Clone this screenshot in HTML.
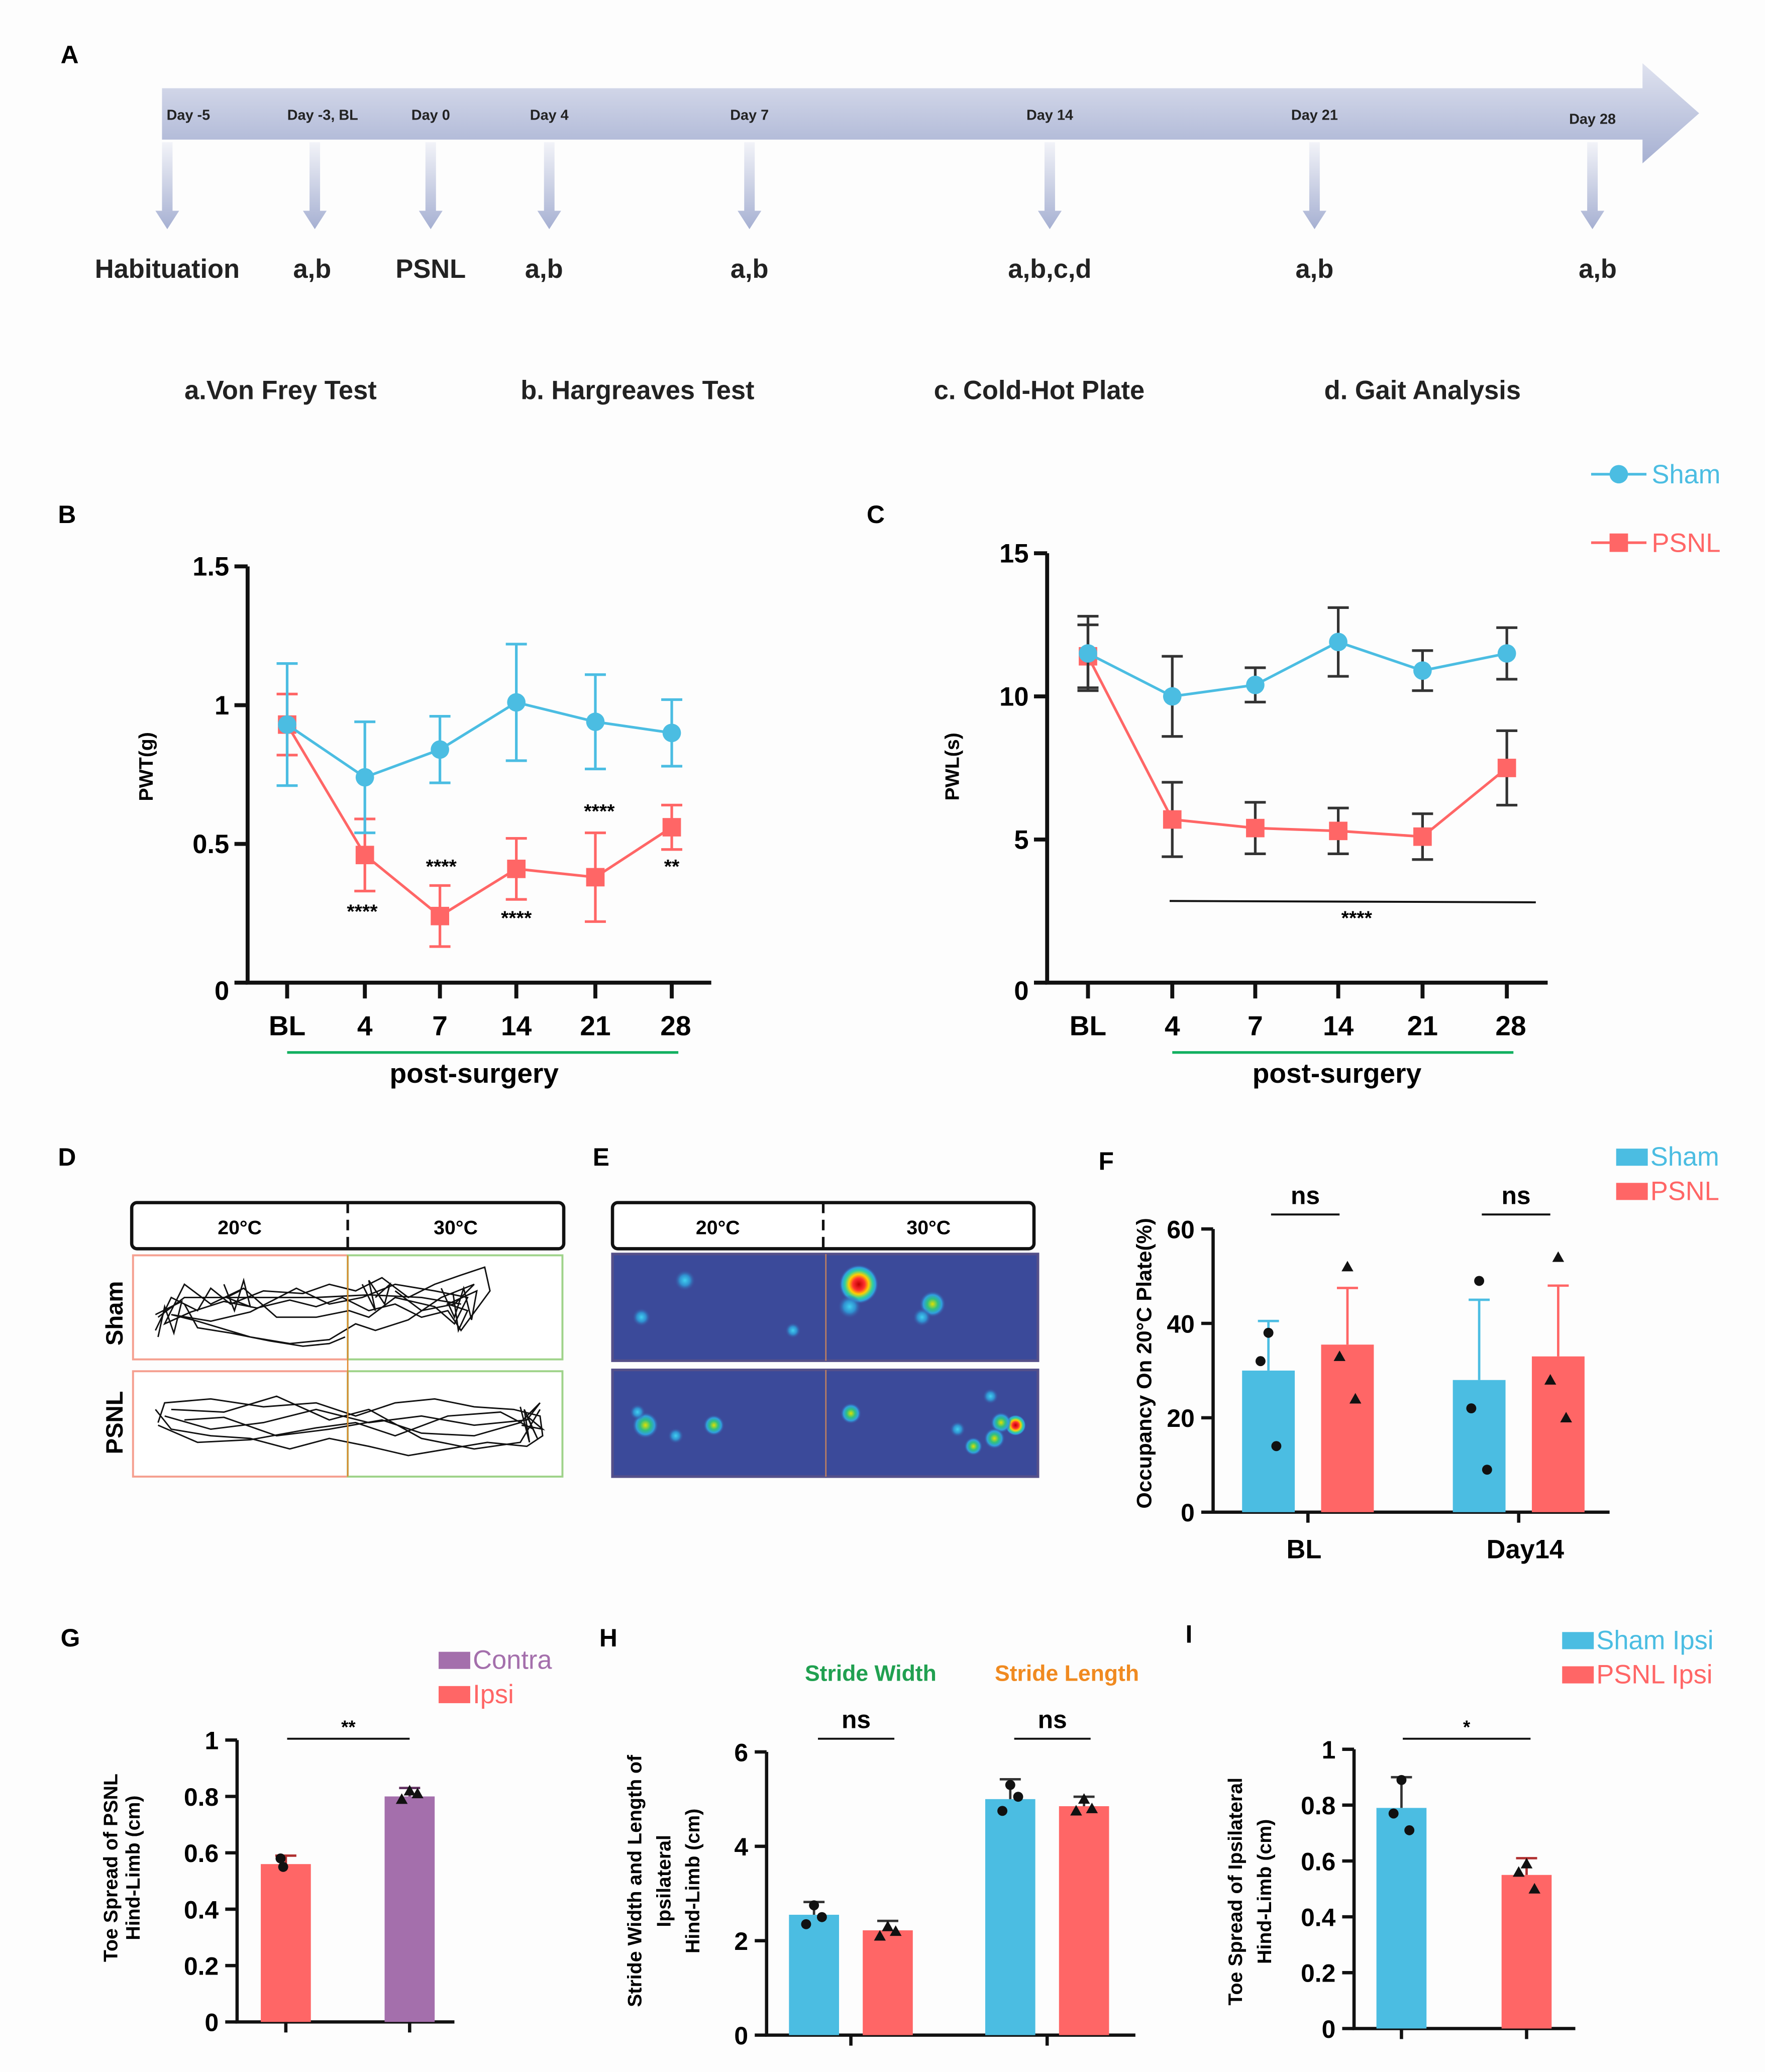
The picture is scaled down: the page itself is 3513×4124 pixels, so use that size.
<!DOCTYPE html>
<html><head><meta charset="utf-8"><style>
html,body{margin:0;padding:0;background:#fdfdfd}
svg{display:block}
text{font-family:"Liberation Sans",sans-serif}
</style></head><body>
<svg id="fig" width="3513" height="4124" viewBox="0 0 1340 1573" preserveAspectRatio="none" xmlns="http://www.w3.org/2000/svg">
<defs>
<linearGradient id="tl" x1="0" y1="0" x2="0" y2="1"><stop offset="0" stop-color="#dfe2ef"/><stop offset="1" stop-color="#a6b0d2"/></linearGradient>
<linearGradient id="dn" x1="0" y1="0" x2="0" y2="1"><stop offset="0" stop-color="#f2f3f8"/><stop offset="1" stop-color="#a6b0d2"/></linearGradient>
<radialGradient id="hot"><stop offset="0" stop-color="#c00000"/><stop offset="0.3" stop-color="#ff3030"/><stop offset="0.5" stop-color="#ffd000"/><stop offset="0.7" stop-color="#30d0a0"/><stop offset="0.85" stop-color="#30a0e0"/><stop offset="1" stop-color="#3b4a9a" stop-opacity="0"/></radialGradient>
<radialGradient id="warm"><stop offset="0" stop-color="#e0e000"/><stop offset="0.4" stop-color="#30c080"/><stop offset="0.7" stop-color="#30a0e0"/><stop offset="1" stop-color="#3b4a9a" stop-opacity="0"/></radialGradient>
<radialGradient id="cool"><stop offset="0" stop-color="#40d0f0"/><stop offset="0.5" stop-color="#3090d0"/><stop offset="1" stop-color="#3b4a9a" stop-opacity="0"/></radialGradient>
</defs>
<rect x="0" y="0" width="1340" height="1573" fill="#fdfdfd"/>
<g id="A" font-weight="bold">
<text x="46" y="48" font-size="19">A</text>
<path d="M123 67 H1247 V48 L1290 86 L1247 124 V106 H123 Z" fill="url(#tl)"/>
</g>
<g id="B"></g>
<g id="C"></g>
<g id="DE"></g>
<g id="F"></g>
<g id="G"></g>
<g id="H"></g>
<g id="I"></g>
</svg>
<script>
// ---------- data ----------
const timelineDays = ["Day -5","Day -3, BL","Day 0","Day 4","Day 7","Day 14","Day 21","Day 28"];
const timelineTasks = ["Habituation","a,b","PSNL","a,b","a,b","a,b,c,d","a,b","a,b"];
const lineCategories = ["BL","4","7","14","21","28"];
const pwtSham = [0.93,0.74,0.84,1.01,0.94,0.90];
const pwtShamErr = [0.22,0.20,0.12,0.21,0.17,0.12];
const pwtPsnl = [0.93,0.46,0.24,0.41,0.38,0.56];
const pwtPsnlErr = [0.11,0.13,0.11,0.11,0.16,0.08];
const pwtTicks = [0,0.5,1,1.5];
const pwtTickLabels = ["0","0.5","1","1.5"];
const pwlSham = [11.5,10.0,10.4,11.9,10.9,11.5];
const pwlShamErr = [1.3,1.4,0.6,1.2,0.7,0.9];
const pwlPsnl = [11.4,5.7,5.4,5.3,5.1,7.5];
const pwlPsnlErr = [1.1,1.3,0.9,0.8,0.8,1.3];
const pwlTicks = [0,5,10,15];
const occCategories = ["BL","Day14"];
const occSham = [30,28];
const occShamErr = [10.5,17];
const occPsnl = [35.5,33];
const occPsnlErr = [12,15];
const occShamPts = [[38,32,14],[49,22,9]];
const occPsnlPts = [[52,33,24],[54,28,20]];
const toeGroups = ["Ipsi","Contra"];
const toeVals = [0.56,0.80];
const toeErr = [0.03,0.03];
const toePts = [[0.58,0.55],[0.82,0.79,0.81]];
const strideCats = ["Stride Width","Stride Length"];
const strideSham = [2.55,5.0];
const strideShamErr = [0.27,0.42];
const stridePsnl = [2.22,4.85];
const stridePsnlErr = [0.2,0.2];
const strideShamPts = [[2.75,2.35,2.5],[5.3,4.75,5.05]];
const stridePsnlPts = [[2.3,2.1,2.2],[5.0,4.75,4.8]];
const ipsiGroups = ["Sham Ipsi","PSNL Ipsi"];
const ipsiVals = [0.79,0.55];
const ipsiErr = [0.11,0.06];
const ipsiPts = [[0.89,0.77,0.71],[0.59,0.56,0.50]];

const BLUE="#4bbde2", RED="#ff6666", PURPLE="#a46fac", INK="#111";
const NS="http://www.w3.org/2000/svg";
function mk(parent,tag,attrs,txt){const e=document.createElementNS(NS,tag);for(const k in attrs)e.setAttribute(k,attrs[k]);if(txt!==undefined)e.textContent=txt;parent.appendChild(e);return e;}

// ---------- A ----------
const A=document.getElementById('A');
const tlX=[143,245,327,417,569,797,998,1209];
timelineDays.forEach((d,i)=>{
  const x=tlX[i];
  let t=mk(A,'text',{x:x,y:i==7?94:91,'font-size':11,'text-anchor':'middle',fill:'#222'},d);
  
  
  const ax = i==0?127:x-(i==1?6:0);
  let a=mk(A,'path',{d:`M${ax-4} 108 H${ax+4} V160 H${ax+9} L${ax} 174 L${ax-9} 160 H${ax-4} Z`,fill:'url(#dn)'});
  
  
  let tt=mk(A,'text',{x:i==0?127:(i==1?237:(i==5?797:x+(i==7?4:(i==3?-4:0)))),y:211,'font-size':20,'text-anchor':'middle',fill:'#222'},timelineTasks[i]);
  
  
});
[["a.Von Frey Test",213],["b. Hargreaves Test",484],["c. Cold-Hot Plate",789],["d. Gait Analysis",1080]].forEach(p=>{
  let t=mk(A,'text',{x:p[1],y:303,'font-size':20,'text-anchor':'middle',fill:'#222'},p[0]);
  
  
});

// ---------- line charts ----------
function lineChart(g,o){
  const y=v=>o.y0-(v-0)*(o.y0-o.yTop)/o.yMax;
  const x=i=>o.xs[i];
  let l=mk(g,'text',{x:o.lx,y:o.ly,'font-size':19,'font-weight':'bold'},o.label);
  
  
  let ax=mk(g,'path',{d:`M${o.ax} ${o.yTop} V${o.y0} H${o.axEnd}`,stroke:INK,'stroke-width':3,fill:'none'});
  
  
  o.ticks.forEach((t,i)=>{
    let tk=mk(g,'line',{x1:o.ax-10,x2:o.ax,y1:y(t),y2:y(t),stroke:INK,'stroke-width':3});
    
    
    let tl=mk(g,'text',{x:o.ax-14,y:y(t)+(i==0?13:7),'font-size':20,'font-weight':'bold','text-anchor':'end'},o.tickLabels[i]);
    
    
  });
  lineCategories.forEach((c,i)=>{
    let tk=mk(g,'line',{x1:x(i),x2:x(i),y1:o.y0,y2:o.y0+12,stroke:INK,'stroke-width':3});
    
    
    let tl=mk(g,'text',{x:x(i)+(i==5?3:0),y:o.y0+40,'font-size':21,'font-weight':'bold','text-anchor':'middle'},c);
    
    
  });
  let gl=mk(g,'line',{x1:x(o.greenFrom),x2:x(5)+5,y1:o.y0+53,y2:o.y0+53,stroke:'#12b060','stroke-width':2});
  
  
  let pt=mk(g,'text',{x:o.postX,y:o.y0+76,'font-size':21,'font-weight':'bold','text-anchor':'middle'},'post-surgery');
  
  
  let yt=mk(g,'text',{x:0,y:0,'font-size':15,'font-weight':'bold','text-anchor':'middle',transform:`translate(${o.ytx},${o.ytY}) rotate(-90)`},o.ytitle);
  
  
  [[o.psnl,o.psnlErr,RED,'psnl'],[o.sham,o.shamErr,BLUE,'sham']].forEach(s=>{
    const [vals,err,col,nm]=s;
    const ec=o.darkErr?'#333':col;
    vals.forEach((v,i)=>{
      let e=mk(g,'path',{d:`M${x(i)} ${y(v+err[i])} V${y(v-err[i])} M${x(i)-8} ${y(v+err[i])} H${x(i)+8} M${x(i)-8} ${y(v-err[i])} H${x(i)+8}`,stroke:ec,'stroke-width':2,fill:'none'});
      
      
    });
    let ln=mk(g,'polyline',{points:vals.map((v,i)=>x(i)+','+y(v)).join(' '),stroke:col,'stroke-width':2,fill:'none'});
    
    
    vals.forEach((v,i)=>{
      let m = nm=='sham'? mk(g,'circle',{cx:x(i),cy:y(v),r:7,fill:col}) : mk(g,'rect',{x:x(i)-7,y:y(v)-7,width:14,height:14,fill:col});
      
      
    });
  });
}
const B=document.getElementById('B');
lineChart(B,{label:'B',lx:44,ly:397,ax:188,axEnd:540,y0:746,yTop:430,yMax:1.5,xs:[218,277,334,392,452,510],ticks:pwtTicks,tickLabels:pwtTickLabels,
  sham:pwtSham,shamErr:pwtShamErr,psnl:pwtPsnl,psnlErr:pwtPsnlErr,greenFrom:0,postX:360,ytitle:'PWT(g)',ytx:116,ytY:582,darkErr:false});
[["****",275,697],["****",335,663],["****",392,702],["****",455,621],["**",510,663]].forEach(s=>{
  let t=mk(B,'text',{x:s[1],y:s[2],'font-size':15,'font-weight':'bold','text-anchor':'middle'},s[0]);
  
  
});
const C=document.getElementById('C');
lineChart(C,{label:'C',lx:658,ly:397,ax:795,axEnd:1175,y0:746,yTop:420,yMax:15,xs:[826,890,953,1016,1080,1144],ticks:pwlTicks,tickLabels:["0","5","10","15"],
  sham:pwlSham,shamErr:pwlShamErr,psnl:pwlPsnl,psnlErr:pwlPsnlErr,greenFrom:1,postX:1015,ytitle:'PWL(s)',ytx:728,ytY:582,darkErr:true});
let cl=mk(C,'line',{x1:888,x2:1166,y1:684,y2:685,stroke:INK,'stroke-width':1.5});


let cs=mk(C,'text',{x:1030,y:702,'font-size':15,'font-weight':'bold','text-anchor':'middle'},'****');


[[BLUE,'Sham',360,'c'],[RED,'PSNL',412,'s']].forEach(l=>{
  let ln=mk(C,'line',{x1:1208,x2:1250,y1:l[2],y2:l[2],stroke:l[0],'stroke-width':2});
  
  
  let m = l[3]=='c'?mk(C,'circle',{cx:1229,cy:l[2],r:7,fill:l[0]}):mk(C,'rect',{x:1222,y:l[2]-7,width:14,height:14,fill:l[0]});
  
  
  let t=mk(C,'text',{x:1254,y:l[2]+7,'font-size':20,fill:l[0]},l[1]);
  
  
});

// ---------- D & E ----------
const DE=document.getElementById('DE');
function txt(p,x,y,s,str,name,extra){let t=mk(p,'text',Object.assign({x:x,y:y,'font-size':s,'font-weight':'bold'},extra||{}),str);return t;}
txt(DE,44,885,19,'D','panel-label');
txt(DE,450,885,19,'E','panel-label');
[[100,428],[465,785]].forEach((b,k)=>{
  let r=mk(DE,'rect',{x:b[0],y:913,width:b[1]-b[0],height:35,rx:4,fill:'#fff',stroke:INK,'stroke-width':2.5});
  
  
  const mid=(b[0]+b[1])/2;
  let d=mk(DE,'line',{x1:mid,x2:mid,y1:913,y2:948,stroke:INK,'stroke-width':2,'stroke-dasharray':'8,5'});
  
  
  txt(DE,(b[0]+mid)/2,937,15,'20°C','plate-temp-label',{'text-anchor':'middle'});
  txt(DE,(mid+b[1])/2,937,15,'30°C','plate-temp-label',{'text-anchor':'middle'});
});
txt(DE,0,0,18,'Sham','row-label-sham',{transform:'translate(93,997) rotate(-90)','text-anchor':'middle'});
txt(DE,0,0,18,'PSNL','row-label-psnl',{transform:'translate(93,1080) rotate(-90)','text-anchor':'middle'});
[[953,1032],[1041,1121]].forEach((r,k)=>{
  let a=mk(DE,'rect',{x:101,y:r[0],width:163,height:r[1]-r[0],fill:'#fff',stroke:'#f5a090','stroke-width':1.5});
  
  let b=mk(DE,'rect',{x:264,y:r[0],width:163,height:r[1]-r[0],fill:'#fff',stroke:'#9fd38a','stroke-width':1.5});
  
});
const trackSham="M118 1010 L130 985 L150 995 L160 978 L175 990 L200 980 L230 982 L250 975 L270 980 L290 970 L310 985 L330 975 L350 968 L368 962 L372 980 L350 1010 L340 995 L320 1000 L300 990 L280 995 L260 985 L240 992 L220 987 L195 993 L170 988 L145 996 L125 1005 L140 975 L160 990 L185 978 L210 1000 L240 1000 L265 995 L280 1000 L300 985 L330 992 L345 1005 L355 985 L330 980 L300 975 L275 985 L250 990 L225 978 L190 996 L160 1003 L130 998 L150 1003 L190 1015 L220 1020 L250 1017 L270 1005 L285 1010 L310 1002 L335 985 L360 975 L345 990 L320 995 L300 980 M120 1000 L140 985 L170 985 L200 985 L240 985 L280 983 L320 985 L350 990 M140 990 L150 1008 L175 1012 L205 1018 L230 1022 L250 1020 L262 1015 M170 975 L178 995 L185 972 L190 992 L172 985 L182 980 M275 975 L285 995 L280 972 L292 990 L296 975 L285 985 M335 978 L345 1000 L352 978 L358 1002 L362 980 L340 990 L355 995 L348 1010 L344 982 M120 1015 L125 992 L132 1012 L138 988 L118 998";
const trackPsnl="M120 1080 L125 1065 L160 1062 L200 1068 L240 1065 L270 1075 L300 1065 L330 1062 L360 1068 L390 1070 L410 1075 L412 1090 L400 1098 L370 1095 L340 1100 L310 1105 L280 1098 L250 1092 L220 1100 L190 1092 L160 1090 L130 1085 L118 1070 M125 1075 L160 1085 L200 1080 L240 1070 L280 1080 L320 1075 L360 1082 L400 1078 L410 1065 L395 1080 L360 1090 L320 1088 L290 1078 L250 1085 L210 1090 L170 1076 L140 1078 M120 1082 L150 1095 L190 1093 L240 1084 L270 1080 L300 1090 L340 1075 L380 1072 L405 1085 M130 1070 L170 1072 L210 1060 L250 1078 L280 1070 L320 1092 L360 1100 L395 1095 L410 1070 M395 1068 L402 1095 L398 1070 L408 1092 L400 1075 L412 1085 L396 1082";
[trackSham,trackPsnl].forEach((d,k)=>{
  let p=mk(DE,'path',{d:d,fill:'none',stroke:INK,'stroke-width':1.1});
  
  
});
let mid1=mk(DE,'line',{x1:264,x2:264,y1:953,y2:1121,stroke:'#e08a30','stroke-width':1});

[[952,1033],[1040,1121]].forEach((r,k)=>{
  let h=mk(DE,'rect',{x:465,y:r[0],width:323,height:r[1]-r[0],fill:'#3b4a9a',stroke:'#55508a','stroke-width':2});
  
  
  let d=mk(DE,'line',{x1:627,x2:627,y1:r[0],y2:r[1],stroke:'#c08060','stroke-width':1});
  
});
[[652,975,15,'hot'],[708,990,10,'warm'],[520,972,8,'cool'],[487,1000,7,'cool'],[602,1010,6,'cool'],[645,992,9,'cool'],[700,1000,7,'cool'],
 [490,1082,10,'warm'],[542,1082,8,'warm'],[484,1072,6,'cool'],[646,1073,8,'warm'],[771,1082,8,'hot'],[760,1080,8,'warm'],[755,1092,8,'warm'],[752,1060,6,'cool'],[739,1098,7,'warm'],[727,1085,6,'cool'],[513,1090,6,'cool']].forEach(s=>{
  let c=mk(DE,'circle',{cx:s[0],cy:s[1],r:s[2],fill:`url(#${s[3]})`});
  
  
});

// ---------- bar chart helper ----------
function barAxes(g,o){
  const y=v=>o.y0-v*(o.y0-o.yTop)/o.yMax;
  let ax=mk(g,'path',{d:`M${o.ax} ${o.yTop} V${o.y0} H${o.axEnd}`,stroke:INK,'stroke-width':2.5,fill:'none'});
  
  o.ticks.forEach((t,i)=>{
    let tk=mk(g,'line',{x1:o.ax-9,x2:o.ax,y1:y(t),y2:y(t),stroke:INK,'stroke-width':2.5});
    
    let tl=mk(g,'text',{x:o.ax-14,y:y(t)+7,'font-size':19,'font-weight':'bold','text-anchor':'end'},o.tickLabels[i]);
    
  });
  return y;
}
function bar(g,y,x0,w,v,err,col,pts,marker,name,errCol){
  let r=mk(g,'rect',{x:x0,y:y(v),width:w,height:y(0)-y(v),fill:col});
  
  const cx=x0+w/2;
  let e=mk(g,'path',{d:`M${cx} ${y(v)} V${y(v+err)} M${cx-8} ${y(v+err)} H${cx+8}`,stroke:errCol||col,'stroke-width':1.8,fill:'none'});
  
  pts.forEach((p,i)=>{
    const px=cx+(i==0?0:(i==1?-6:6))+(pts.length==2?(i?4:-4):0);
    let m = marker=='c'? mk(g,'circle',{cx:px,cy:y(p),r:3.8,fill:INK}) : mk(g,'path',{d:`M${px} ${y(p)-4.5} L${px+4.5} ${y(p)+3.5} L${px-4.5} ${y(p)+3.5} Z`,fill:INK});
    
  });
}
function sig(g,x1,x2,yy,s,fs){
  let l=mk(g,'line',{x1:x1,x2:x2,y1:yy,y2:yy,stroke:INK,'stroke-width':1.5});
  
  let t=mk(g,'text',{x:(x1+x2)/2,y:yy-(fs>15?8:4),'font-size':fs,'font-weight':'bold','text-anchor':'middle'},s);
  
}
function legendBox(g,x,yy,col,label,fs){
  let r=mk(g,'rect',{x:x,y:yy-13,width:24,height:13,fill:col});
  
  let t=mk(g,'text',{x:x+26,y:yy,'font-size':fs||20,fill:col},label);
  
}

// ---------- F ----------
const F=document.getElementById('F');
txt(F,834,888,19,'F','panel-label');
const yF=barAxes(F,{ax:921,axEnd:1222,y0:1148,yTop:933,yMax:60,ticks:[0,20,40,60],tickLabels:["0","20","40","60"]});
occCategories.forEach((c,i)=>{
  const bx=[943,1103][i];
  bar(F,yF,bx,40,occSham[i],occShamErr[i],BLUE,occShamPts[i],'c','sham-bar-'+c);
  bar(F,yF,bx+60,40,occPsnl[i],occPsnlErr[i],RED,occPsnlPts[i],'t','psnl-bar-'+c);
  let tk=mk(F,'line',{x1:bx+50,x2:bx+50,y1:1148,y2:1156,stroke:INK,'stroke-width':2.5});
  
  txt(F,bx+50-(i?-5:3),1183,20,c,'x-tick-label',{'text-anchor':'middle'});
  sig(F,bx+22,bx+74,922,'ns',19);
});
txt(F,0,0,16,'Occupancy On 20°C Plate(%)','y-axis-title',{transform:'translate(874,1035) rotate(-90)','text-anchor':'middle'});
legendBox(F,1227,885,BLUE,'Sham');
legendBox(F,1227,911,RED,'PSNL');

// ---------- G ----------
const G=document.getElementById('G');
txt(G,46,1250,19,'G','panel-label');
const yG=barAxes(G,{ax:180,axEnd:345,y0:1535,yTop:1321,yMax:1,ticks:[0,0.2,0.4,0.6,0.8,1],tickLabels:["0","0.2","0.4","0.6","0.8","1"]});
bar(G,yG,198,38,toeVals[0],toeErr[0],RED,toePts[0],'c','ipsi-bar','#b03030');
bar(G,yG,292,38,toeVals[1],toeErr[1],PURPLE,toePts[1],'t','contra-bar','#603060');
[217,311].forEach(x=>{let tk=mk(G,'line',{x1:x,x2:x,y1:1535,y2:1543,stroke:INK,'stroke-width':2.5});});
sig(G,218,311,1320,'**',14);
txt(G,0,0,15,'Toe Spread of PSNL','y-axis-title',{transform:'translate(89,1418) rotate(-90)','text-anchor':'middle'});
txt(G,0,0,15,'Hind-Limb  (cm)','y-axis-title-2',{transform:'translate(106,1418) rotate(-90)','text-anchor':'middle'});
legendBox(G,333,1267,PURPLE,'Contra');
legendBox(G,333,1293,RED,'Ipsi');

// ---------- H ----------
const H=document.getElementById('H');
txt(H,455,1250,19,'H','panel-label');
const yH=barAxes(H,{ax:582,axEnd:862,y0:1545,yTop:1330,yMax:6,ticks:[0,2,4,6],tickLabels:["0","2","4","6"]});
strideCats.forEach((c,i)=>{
  const bx=[599,748][i];
  bar(H,yH,bx,38,strideSham[i],strideShamErr[i],BLUE,strideShamPts[i],'c','sham-bar-'+i,'#333');
  bar(H,yH,bx+56,38,stridePsnl[i],stridePsnlErr[i],RED,stridePsnlPts[i],'t','psnl-bar-'+i,'#333');
  let tk=mk(H,'line',{x1:bx+47,x2:bx+47,y1:1545,y2:1553,stroke:INK,'stroke-width':2.5});
  
  sig(H,bx+22,bx+80,1320,'ns',19);
  txt(H,bx+62,1276,17,c,'group-label',{'text-anchor':'middle',fill:i?'#f08a20':'#20a050'});
});
txt(H,0,0,15,'Stride Width and Length of','y-axis-title',{transform:'translate(487,1428) rotate(-90)','text-anchor':'middle'});
txt(H,0,0,15,'Ipsilateral','y-axis-title-2',{transform:'translate(509,1428) rotate(-90)','text-anchor':'middle'});
txt(H,0,0,15,'Hind-Limb  (cm)','y-axis-title-3',{transform:'translate(531,1428) rotate(-90)','text-anchor':'middle'});

// ---------- I ----------
const I=document.getElementById('I');
txt(I,900,1247,19,'I','panel-label');
const yI=barAxes(I,{ax:1028,axEnd:1196,y0:1540,yTop:1328,yMax:1,ticks:[0,0.2,0.4,0.6,0.8,1],tickLabels:["0","0.2","0.4","0.6","0.8","1"]});
bar(I,yI,1045,38,ipsiVals[0],ipsiErr[0],BLUE,ipsiPts[0],'c','sham-ipsi-bar','#333');
bar(I,yI,1140,38,ipsiVals[1],ipsiErr[1],RED,ipsiPts[1],'t','psnl-ipsi-bar','#b03030');
[1064,1159].forEach(x=>{let tk=mk(I,'line',{x1:x,x2:x,y1:1540,y2:1548,stroke:INK,'stroke-width':2.5});});
sig(I,1065,1162,1320,'*',14);
txt(I,0,0,15,'Toe Spread of Ipsilateral','y-axis-title',{transform:'translate(943,1436) rotate(-90)','text-anchor':'middle'});
txt(I,0,0,15,'Hind-Limb  (cm)','y-axis-title-2',{transform:'translate(965,1436) rotate(-90)','text-anchor':'middle'});
legendBox(I,1186,1252,BLUE,'Sham Ipsi');
legendBox(I,1186,1278,RED,'PSNL Ipsi');
</script>
</body></html>
